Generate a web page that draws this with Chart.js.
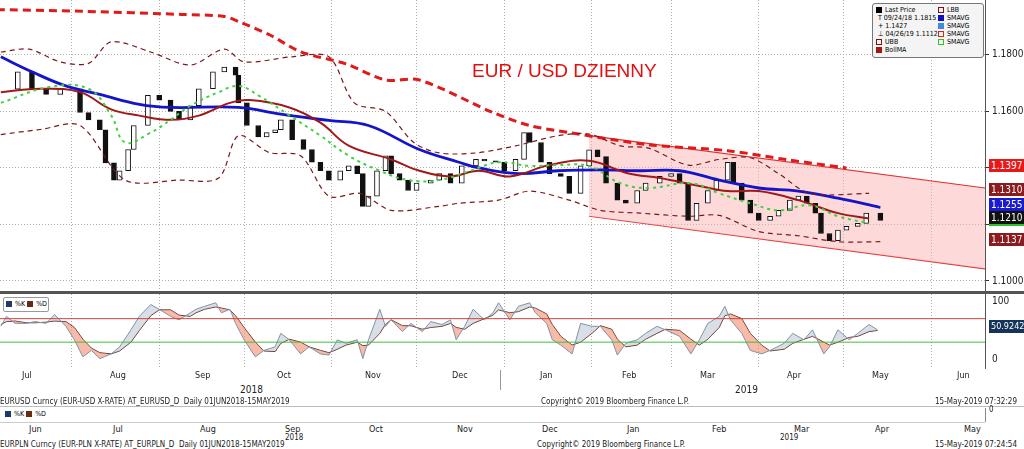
<!DOCTYPE html>
<html>
<head>
<meta charset="utf-8">
<script src="https://cdn.jsdelivr.net/npm/chart.js@4"></script>
<style>
  body { margin: 0; width: 1024px; height: 449px; background: #fff; position: relative; overflow: hidden;
         font-family: "DejaVu Sans Condensed", "Liberation Sans Narrow", "DejaVu Sans", sans-serif; }
  .abs { position: absolute; }
  .lbl { position: absolute; font-size: 10px; color: #222; white-space: nowrap; }
  .tag { position: absolute; left: 989px; width: 35px; height: 13px; font-size: 10px; color: #fff; line-height: 13px; padding-left: 2px; overflow: hidden; }
  .legend { position: absolute; left: 872px; top: 3px; width: 112px; height: 55px; border: 1px solid #777; border-radius: 3px;
            background: #f4f4f4; font-size: 7px; line-height: 8px; padding: 2px 3px; box-sizing: border-box; }
  .sw { display: inline-block; width: 6px; height: 6px; margin-right: 3px; vertical-align: middle; }
</style>
</head>
<body>
<div class="abs" style="left:0;top:-9px;width:1024px;height:312px"><canvas id="mainChart"></canvas></div>
<div class="abs" style="left:0;top:285px;width:1024px;height:92px"><canvas id="stochChart"></canvas></div>
<div class="abs" style="left:0;top:291px;width:1024px;height:3px;background:#555"></div>

<div class="abs" style="left:472px;top:60px;color:#e01010;font-size:19px;font-family:'Liberation Sans',Arial,sans-serif">EUR / USD DZIENNY</div>

<div class="legend">
  <div style="float:left;width:62px">
    <div><span class="sw" style="background:#000"></span>Last Price</div>
    <div>&nbsp;T 09/24/18 1.1815</div>
    <div>&nbsp;+ 1.1427</div>
    <div>&nbsp;⊥ 04/26/19 1.1112</div>
    <div><span class="sw" style="border:1px dashed #7a1010;width:4px;height:4px"></span>UBB</div>
    <div><span class="sw" style="background:#a01818"></span>BollMA</div>
  </div>
  <div style="float:left;width:42px">
    <div><span class="sw" style="border:1px dashed #7a1010;width:4px;height:4px"></span>LBB</div>
    <div><span class="sw" style="background:#1010c0"></span>SMAVG</div>
    <div><span class="sw" style="background:#3a8ee0"></span>SMAVG</div>
    <div><span class="sw" style="border:1px dashed #e02020;width:4px;height:4px"></span>SMAVG</div>
    <div><span class="sw" style="border:1px dashed #30c030;width:4px;height:4px"></span>SMAVG</div>
  </div>
</div>

<div class="tag" style="top:159px;background:#e81818">1.1397</div>
<div class="tag" style="top:183px;background:#8a1c20">1.1310</div>
<div class="tag" style="top:198px;background:#1a1ad0">1.1255</div>
<div class="tag" style="top:211px;background:#111;border-bottom:2px solid #30c030">1.1210</div>
<div class="tag" style="top:233px;background:#8a1c20">1.1137</div>
<div class="tag" style="top:320px;background:#16335a;font-size:9px">50.9242</div>

<div class="abs" style="left:3px;top:297px;width:44px;height:13px;border:1px solid #999;border-radius:2px;font-size:7px;line-height:13px;background:#fff">
  &nbsp;<span class="sw" style="background:#1e3a66"></span>%K <span class="sw" style="background:#6a2a10"></span>%D</div>

<div id="months1"></div>
<div class="lbl" style="left:240px;top:384px">2018</div>
<div class="lbl" style="left:735px;top:384px">2019</div>
<div class="abs" style="left:500px;top:370px;width:1px;height:20px;background:#999"></div>
<div class="lbl" style="left:0;top:397px;font-size:8px">EURUSD Curncy (EUR-USD X-RATE) AT_EURUSD_D &nbsp;Daily 01JUN2018-15MAY2019</div>
<div class="lbl" style="left:541px;top:397px;font-size:8px">Copyright© 2019 Bloomberg Finance L.P.</div>
<div class="lbl" style="left:935px;top:397px;font-size:8px">15-May-2019 07:32:29</div>
<div class="abs" style="left:0;top:406px;width:1024px;height:1px;background:#bbb"></div>
<div class="abs" style="left:3px;top:409px;width:44px;height:11px;font-size:7px;line-height:11px">
  &nbsp;<span class="sw" style="background:#1e3a66"></span>%K <span class="sw" style="background:#6a2a10"></span>%D</div>
<div class="abs" style="left:0;top:422px;width:985px;height:1px;background:#ccc"></div>
<div class="abs" style="left:985px;top:408px;width:1px;height:14px;background:#888"></div>
<div class="lbl" style="left:989px;top:405px;font-size:8px">0</div>
<div id="months2"></div>
<div class="lbl" style="left:285px;top:433px;font-size:8px">2018</div>
<div class="lbl" style="left:780px;top:433px;font-size:8px">2019</div>
<div class="lbl" style="left:0;top:440px;font-size:8px">EURPLN Curncy (EUR-PLN X-RATE) AT_EURPLN_D &nbsp;Daily 01JUN2018-15MAY2019</div>
<div class="lbl" style="left:537px;top:440px;font-size:8px">Copyright© 2019 Bloomberg Finance L.P.</div>
<div class="lbl" style="left:935px;top:440px;font-size:8px">15-May-2019 07:24:54</div>

<script>
// x values are days counted from 1 Jul 2018
const monthNames1 = ['Jul', 'Aug', 'Sep', 'Oct', 'Nov', 'Dec', 'Jan', 'Feb', 'Mar', 'Apr', 'May', 'Jun'];
const monthPos1 = [30, 118, 203, 285, 373, 460, 548, 630, 708, 795, 880, 965];
const monthNames2 = ['Jun', 'Jul', 'Aug', 'Sep', 'Oct', 'Nov', 'Dec', 'Jan', 'Feb', 'Mar', 'Apr', 'May'];
const monthPos2 = [37, 121, 208, 293, 377, 465, 550, 635, 720, 802, 883, 972];
const monthStarts = [31, 62, 92, 123, 153, 184, 215, 243, 274, 304, 335];

const priceDays = [6, 12, 17, 22, 27, 31, 34, 37, 41, 43, 46, 48, 51, 53, 58, 62, 66, 69, 73, 76, 81, 85, 89, 90, 93, 97, 100, 103, 105, 109,
  113, 116, 119, 122, 126, 129, 132, 134, 136, 139, 142, 144, 147, 150, 153, 158, 161, 165, 169, 174, 177, 181, 184, 188, 191, 193, 197, 200,
  204, 207, 211, 214, 217, 220, 224, 227, 231, 234, 239, 243, 246, 249, 252, 256, 259, 263, 265, 268, 271, 274, 278, 281, 285, 288, 291,
  294, 296, 299, 302, 305, 309, 312, 314, 317];
const closes = [1.1679, 1.174, 1.168, 1.166, 1.168, 1.168, 1.1596, 1.157, 1.1535, 1.1418, 1.1357, 1.139, 1.1465, 1.155, 1.1657, 1.164, 1.16,
  1.157, 1.162, 1.168, 1.174, 1.1757, 1.1728, 1.163, 1.155, 1.151, 1.1525, 1.1535, 1.157, 1.15, 1.1465, 1.142, 1.139, 1.1357, 1.139, 1.1407,
  1.138, 1.1264, 1.130, 1.139, 1.1443, 1.138, 1.1357, 1.132, 1.1346, 1.1357, 1.138, 1.1346, 1.1407, 1.143, 1.1425, 1.142, 1.139, 1.143,
  1.1525, 1.149, 1.142, 1.138, 1.137, 1.131, 1.1407, 1.1464, 1.144, 1.1346, 1.1286, 1.1275, 1.132, 1.1346, 1.137, 1.138, 1.1346, 1.1214,
  1.1275, 1.132, 1.1357, 1.142, 1.1346, 1.1286, 1.124, 1.1214, 1.1229, 1.125, 1.1286, 1.13, 1.1275, 1.124, 1.1168, 1.1143, 1.118, 1.1193,
  1.1204, 1.124, 1.124, 1.1214];

const smaLongDays = [0, 35, 70, 85, 90, 101, 112, 128, 142, 154, 180, 193, 207, 235, 263, 284, 305];
const smaLong = [1.1961, 1.1954, 1.1943, 1.1936, 1.1918, 1.1871, 1.1811, 1.1768, 1.1711, 1.1711, 1.1596, 1.155, 1.1525, 1.1482, 1.1461, 1.1429, 1.14];
const smaBlueDays = [6, 17, 29, 41, 55, 66, 90, 105, 122, 136, 154, 168, 175, 189, 203, 218, 232, 246, 260, 274, 288, 302, 317];
const smaBlue = [1.1793, 1.174, 1.169, 1.166, 1.1625, 1.1614, 1.1614, 1.159, 1.1568, 1.155, 1.1465, 1.142, 1.140, 1.138, 1.139, 1.1393, 1.139,
  1.139, 1.1357, 1.1329, 1.1318, 1.1293, 1.126];
const bollMaDays = [6, 20, 34, 45, 55, 66, 76, 87, 94, 108, 119, 129, 144, 154, 165, 175, 186, 200, 214, 228, 239, 253, 263, 274, 288, 302, 313];
const bollMa = [1.1668, 1.168, 1.1668, 1.1607, 1.1585, 1.157, 1.1585, 1.163, 1.164, 1.1614, 1.156, 1.1479, 1.143, 1.139, 1.137, 1.139, 1.137,
  1.141, 1.1425, 1.138, 1.1364, 1.1336, 1.1318, 1.1318, 1.1286, 1.124, 1.1221];
const greenDays = [6, 23, 37, 45, 50, 59, 66, 73, 83, 90, 97, 108, 119, 129, 140, 150, 161, 172, 182, 193, 203, 214, 225, 235, 250, 260,
  271, 281, 292, 302, 313];
const greenMa = [1.163, 1.1686, 1.168, 1.1586, 1.149, 1.1525, 1.157, 1.162, 1.1668, 1.169, 1.1657, 1.1586, 1.1514, 1.1443, 1.139, 1.1357,
  1.1357, 1.139, 1.142, 1.1407, 1.141, 1.1407, 1.1346, 1.1329, 1.1346, 1.131, 1.1275, 1.125, 1.1268, 1.1229, 1.1204];
const upperDays = [6, 16, 27, 37, 45, 59, 73, 85, 92, 109, 122, 131, 142, 152, 161, 174, 188, 203, 214, 225, 235, 249, 260, 271, 281, 292, 313];
const upperBB = [1.181, 1.182, 1.1775, 1.177, 1.1846, 1.181, 1.1764, 1.182, 1.1775, 1.1793, 1.1793, 1.163, 1.16, 1.149, 1.1453, 1.1453,
  1.1478, 1.1514, 1.152, 1.1478, 1.147, 1.141, 1.143, 1.1436, 1.138, 1.131, 1.131];
const lowerDays = [6, 20, 34, 50, 69, 83, 90, 101, 112, 122, 133, 144, 161, 168, 182, 193, 207, 218, 232, 249, 260, 274, 288, 302, 317];
const lowerBB = [1.1518, 1.1536, 1.155, 1.1357, 1.1357, 1.1364, 1.1514, 1.1454, 1.1443, 1.13, 1.131, 1.125, 1.1264, 1.1275, 1.1286, 1.1318,
  1.1286, 1.125, 1.124, 1.1229, 1.1232, 1.1175, 1.116, 1.1139, 1.1139];
const channelDays = [214, 354];
const channelTop = [1.1514, 1.1329];
const channelBottom = [1.1229, 1.1043];

const stochDays = [6, 8, 11, 15, 18, 22, 25, 29, 32, 35, 38, 41, 45, 48, 52, 55, 59, 62, 66, 69, 73, 75, 78, 82, 84, 87, 89, 92, 96, 99,
  103, 105, 108, 112, 115, 119, 122, 125, 128, 132, 134, 136, 140, 142, 144, 148, 151, 155, 158, 162, 165, 167, 170, 173, 177, 180, 182,
  186, 189, 193, 195, 199, 201, 204, 208, 211, 215, 218, 222, 224, 227, 231, 234, 238, 241, 246, 250, 253, 256, 260, 262, 264, 268, 271,
  275, 278, 283, 286, 290, 293, 297, 299, 302, 306, 309, 313, 316];
const stochK = [57, 74, 62, 62, 65, 62, 77, 57, 34, 5, 16, 2, 10, 22, 51, 74, 94, 86, 74, 68, 80, 86, 91, 97, 80, 86, 62, 34, 5, 16,
  22, 45, 34, 10, 22, 10, 8, 34, 28, 34, 2, 34, 86, 57, 68, 48, 62, 48, 65, 60, 68, 34, 57, 86, 68, 80, 97, 68, 91, 97,
  80, 62, 34, 25, 10, 62, 57, 57, 34, 8, 28, 34, 45, 57, 51, 40, 10, 34, 62, 74, 91, 68, 45, 16, 10, 16, 28, 45, 34, 51,
  10, 22, 51, 34, 45, 60, 51];
const stochD = [60, 65, 66, 63, 63, 64, 66, 65, 55, 35, 20, 12, 10, 15, 30, 50, 75, 85, 85, 76, 74, 80, 86, 90, 88, 85, 75, 55, 30, 15,
  14, 28, 35, 30, 22, 16, 12, 18, 25, 30, 24, 25, 45, 60, 68, 58, 58, 52, 55, 57, 62, 55, 52, 62, 70, 76, 85, 80, 82, 90,
  88, 78, 60, 40, 25, 30, 45, 58, 52, 35, 22, 25, 35, 45, 52, 50, 35, 25, 35, 55, 75, 78, 70, 45, 25, 15, 18, 28, 35, 40,
  30, 25, 30, 38, 40, 48, 50];
const stochLevels = [70, 30];

// month labels under the panels
function putMonths(id, names, pos, top) {
  const el = document.getElementById(id);
  names.forEach((n, i) => {
    const d = document.createElement('div');
    d.className = 'lbl';
    d.style.left = (pos[i] - 8) + 'px';
    d.style.top = top + 'px';
    d.style.fontSize = '9px';
    d.textContent = n;
    el.appendChild(d);
  });
}
putMonths('months1', monthNames1, monthPos1, 370);
putMonths('months2', monthNames2, monthPos2, 424);

const zip = (xs, ys) => xs.map((x, i) => ({ x: x, y: ys[i] }));
const font = { family: '"DejaVu Sans Condensed", "DejaVu Sans", sans-serif', size: 10 };

// 蜡烛：前收盘到收盘
const candles = closes.map((c, i) => ({ x: priceDays[i], y: [i ? closes[i - 1] : c, c] }));
const candleColors = closes.map((c, i) => (i && c >= closes[i - 1]) ? '#ffffff' : '#111111');

const makeX = () => ({
  type: 'linear', min: 5.7, max: 354, offset: false,
  afterBuildTicks: axis => { axis.ticks = monthStarts.map(v => ({ value: v })); },
  ticks: { display: false },
  grid: { color: '#b0b0b0', drawTicks: false, offset: false },
  border: { display: false, dash: [1, 2] }
});

new Chart(document.getElementById('mainChart'), {
  data: {
    datasets: [
      { type: 'line', data: zip(channelDays, channelTop), borderColor: '#e03030', borderWidth: 1.2, pointRadius: 0,
        fill: '+1', backgroundColor: 'rgba(250,170,170,0.45)', order: 10 },
      { type: 'line', data: zip(channelDays, channelBottom), borderColor: '#e03030', borderWidth: 1.2, pointRadius: 0, fill: false, order: 10 },
      { type: 'line', data: zip(upperDays, upperBB), borderColor: '#7a1818', borderWidth: 1.2, borderDash: [5, 4], pointRadius: 0, tension: 0.3 },
      { type: 'line', data: zip(lowerDays, lowerBB), borderColor: '#7a1818', borderWidth: 1.2, borderDash: [5, 4], pointRadius: 0, tension: 0.3 },
      { type: 'line', data: zip(greenDays, greenMa), borderColor: '#40d040', borderWidth: 2, borderDash: [3, 4], pointRadius: 0, tension: 0.4 },
      { type: 'line', data: zip(bollMaDays, bollMa), borderColor: '#a01818', borderWidth: 2, pointRadius: 0, tension: 0.4 },
      { type: 'line', data: zip(smaBlueDays, smaBlue), borderColor: '#1414c8', borderWidth: 2.8, pointRadius: 0, tension: 0.4 },
      { type: 'line', data: zip(smaLongDays, smaLong), borderColor: '#e01a1a', borderWidth: 3, borderDash: [8, 5], pointRadius: 0, tension: 0.3 },
      { type: 'bar', data: candles, backgroundColor: candleColors, borderColor: '#111', borderWidth: 1, barThickness: 5, order: 0,
        borderSkipped: false }
    ]
  },
  options: {
    responsive: true, maintainAspectRatio: false, animation: false,
    layout: { padding: 0 },
    plugins: { legend: { display: false }, tooltip: { enabled: false } },
    scales: {
      x: makeX(),
      y: {
        position: 'right', min: 1.0954, max: 1.1994,
        afterFit: axis => { axis.width = 39; },
        afterBuildTicks: axis => { axis.ticks = [1.10, 1.12, 1.14, 1.16, 1.18].map(v => ({ value: v })); },
        ticks: { font: font, color: '#222', padding: 3, callback: v => (Math.abs(v - 1.12) < 1e-6 || Math.abs(v - 1.14) < 1e-6) ? '' : v.toFixed(4) },
        grid: { color: '#b0b0b0', tickLength: 4, tickColor: '#333' },
        border: { color: '#555', dash: [1, 2] }
      }
    }
  }
});

new Chart(document.getElementById('stochChart'), {
  type: 'line',
  data: {
    datasets: [
      { data: zip([5.7, 354], [stochLevels[0], stochLevels[0]]), borderColor: '#d04040', borderWidth: 1, pointRadius: 0 },
      { data: zip([5.7, 354], [stochLevels[1], stochLevels[1]]), borderColor: '#40c040', borderWidth: 1, pointRadius: 0 },
      { data: zip(stochDays, stochK), borderColor: '#7f93a8', borderWidth: 1, pointRadius: 0,
        fill: { target: '+1', above: 'rgba(170,185,200,0.45)', below: 'rgba(245,140,110,0.6)' } },
      { data: zip(stochDays, stochD), borderColor: '#5a2a20', borderWidth: 1, pointRadius: 0 }
    ]
  },
  options: {
    responsive: true, maintainAspectRatio: false, animation: false,
    layout: { padding: 0 },
    plugins: { legend: { display: false }, tooltip: { enabled: false } },
    scales: {
      x: makeX(),
      y: {
        position: 'right', min: -14, max: 112,
        afterFit: axis => { axis.width = 39; },
        afterBuildTicks: axis => { axis.ticks = [0, 25, 50, 75, 100].map(v => ({ value: v })); },
        ticks: { font: font, color: '#222', padding: 3, callback: v => (v === 0 || v === 100) ? v : '' },
        grid: { display: false, tickLength: 4, tickColor: '#333' },
        border: { color: '#555' }
      }
    }
  }
});
</script>
</body>
</html>
